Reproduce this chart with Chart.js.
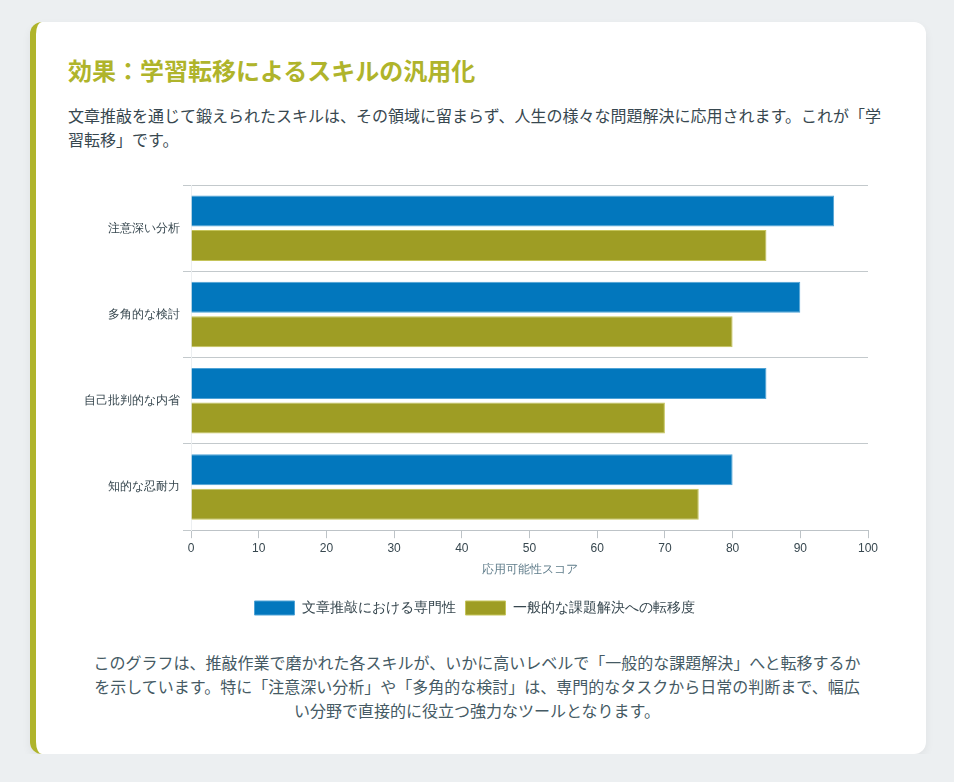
<!DOCTYPE html>
<html lang="ja">
<head>
<meta charset="utf-8">
<script src="https://cdn.jsdelivr.net/npm/chart.js@4.4.1/dist/chart.umd.min.js"></script>
<style>
  html, body { margin: 0; padding: 0; background: #ECEFF1; }
  body { font-family: 'Noto Sans CJK JP', 'Noto Sans', sans-serif; }
  .card {
    width: 896px; box-sizing: border-box; margin: 22px 0 0 30px;
    background: #fff; border-radius: 12px; border-left: 6px solid #AFB42B;
    box-shadow: 0 4px 10px rgba(0,0,0,0.06);
    padding: 30px 40px 32px 32px;
  }
  h2 { margin: 0 0 15px; font-size: 24px; line-height: 36px; color: #AFB42B; font-weight: 700; }
  p.lead { margin: 0; font-size: 16px; line-height: 24px; color: #37474F; }
  .chart-box { position: relative; height: 450px; margin: 24px 0 25px; }
  p.note { margin: 0 auto; max-width: 780px; text-align: center; font-size: 16px; line-height: 24px; color: #455A64; }
</style>
</head>
<body>
<div class="card">
  <h2>効果：学習転移によるスキルの汎用化</h2>
  <p class="lead">文章推敲を通じて鍛えられたスキルは、その領域に留まらず、人生の様々な問題解決に応用されます。これが「学習転移」です。</p>
  <div class="chart-box"><canvas id="c"></canvas></div>
  <p class="note">このグラフは、推敲作業で磨かれた各スキルが、いかに高いレベルで「一般的な課題解決」へと転移するかを示しています。特に「注意深い分析」や「多角的な検討」は、専門的なタスクから日常の判断まで、幅広い分野で直接的に役立つ強力なツールとなります。</p>
</div>
<script>
const categories = ['注意深い分析', '多角的な検討', '自己批判的な内省', '知的な忍耐力'];
const seriesNames = ['文章推敲における専門性', '一般的な課題解決への転移度'];
const expertise = [95, 90, 85, 80];
const transfer = [85, 80, 70, 75];
const xTicks = [0, 10, 20, 30, 40, 50, 60, 70, 80, 90, 100];
const axisTitle = '応用可能性スコア';

new Chart(document.getElementById('c'), {
  type: 'bar',
  data: {
    labels: categories,
    datasets: [
      { label: seriesNames[0], data: expertise, backgroundColor: '#0277BD', borderColor: '#4FA3D6', borderWidth: 1 },
      { label: seriesNames[1], data: transfer, backgroundColor: '#9E9D24', borderColor: '#C5C45A', borderWidth: 1 }
    ]
  },
  options: {
    indexAxis: 'y',
    responsive: true,
    maintainAspectRatio: false,
    animation: false,
    layout: { padding: { top: 10, left: 13, right: 18 } },
    scales: {
      x: {
        min: 0, max: 100,
        afterBuildTicks: (s) => { s.ticks = xTicks.map(v => ({ value: v })); },
        ticks: { color: '#37474F', font: { size: 12 } },
        grid: { drawOnChartArea: false, color: '#BDC3C7' },
        border: { color: '#BDC3C7' },
        title: { display: true, text: axisTitle, color: '#607D8B', font: { size: 12 }, padding: { top: 4, bottom: 14 } }
      },
      y: {
        ticks: { color: '#37474F', font: { size: 12 } },
        grid: { color: '#C3C9CC' },
        border: { color: '#ECEFF1' }
      }
    },
    plugins: {
      legend: {
        position: 'bottom',
        labels: { color: '#37474F', font: { size: 14 }, boxWidth: 40 }
      },
      tooltip: { enabled: false }
    }
  }
});
</script>
</body>
</html>
